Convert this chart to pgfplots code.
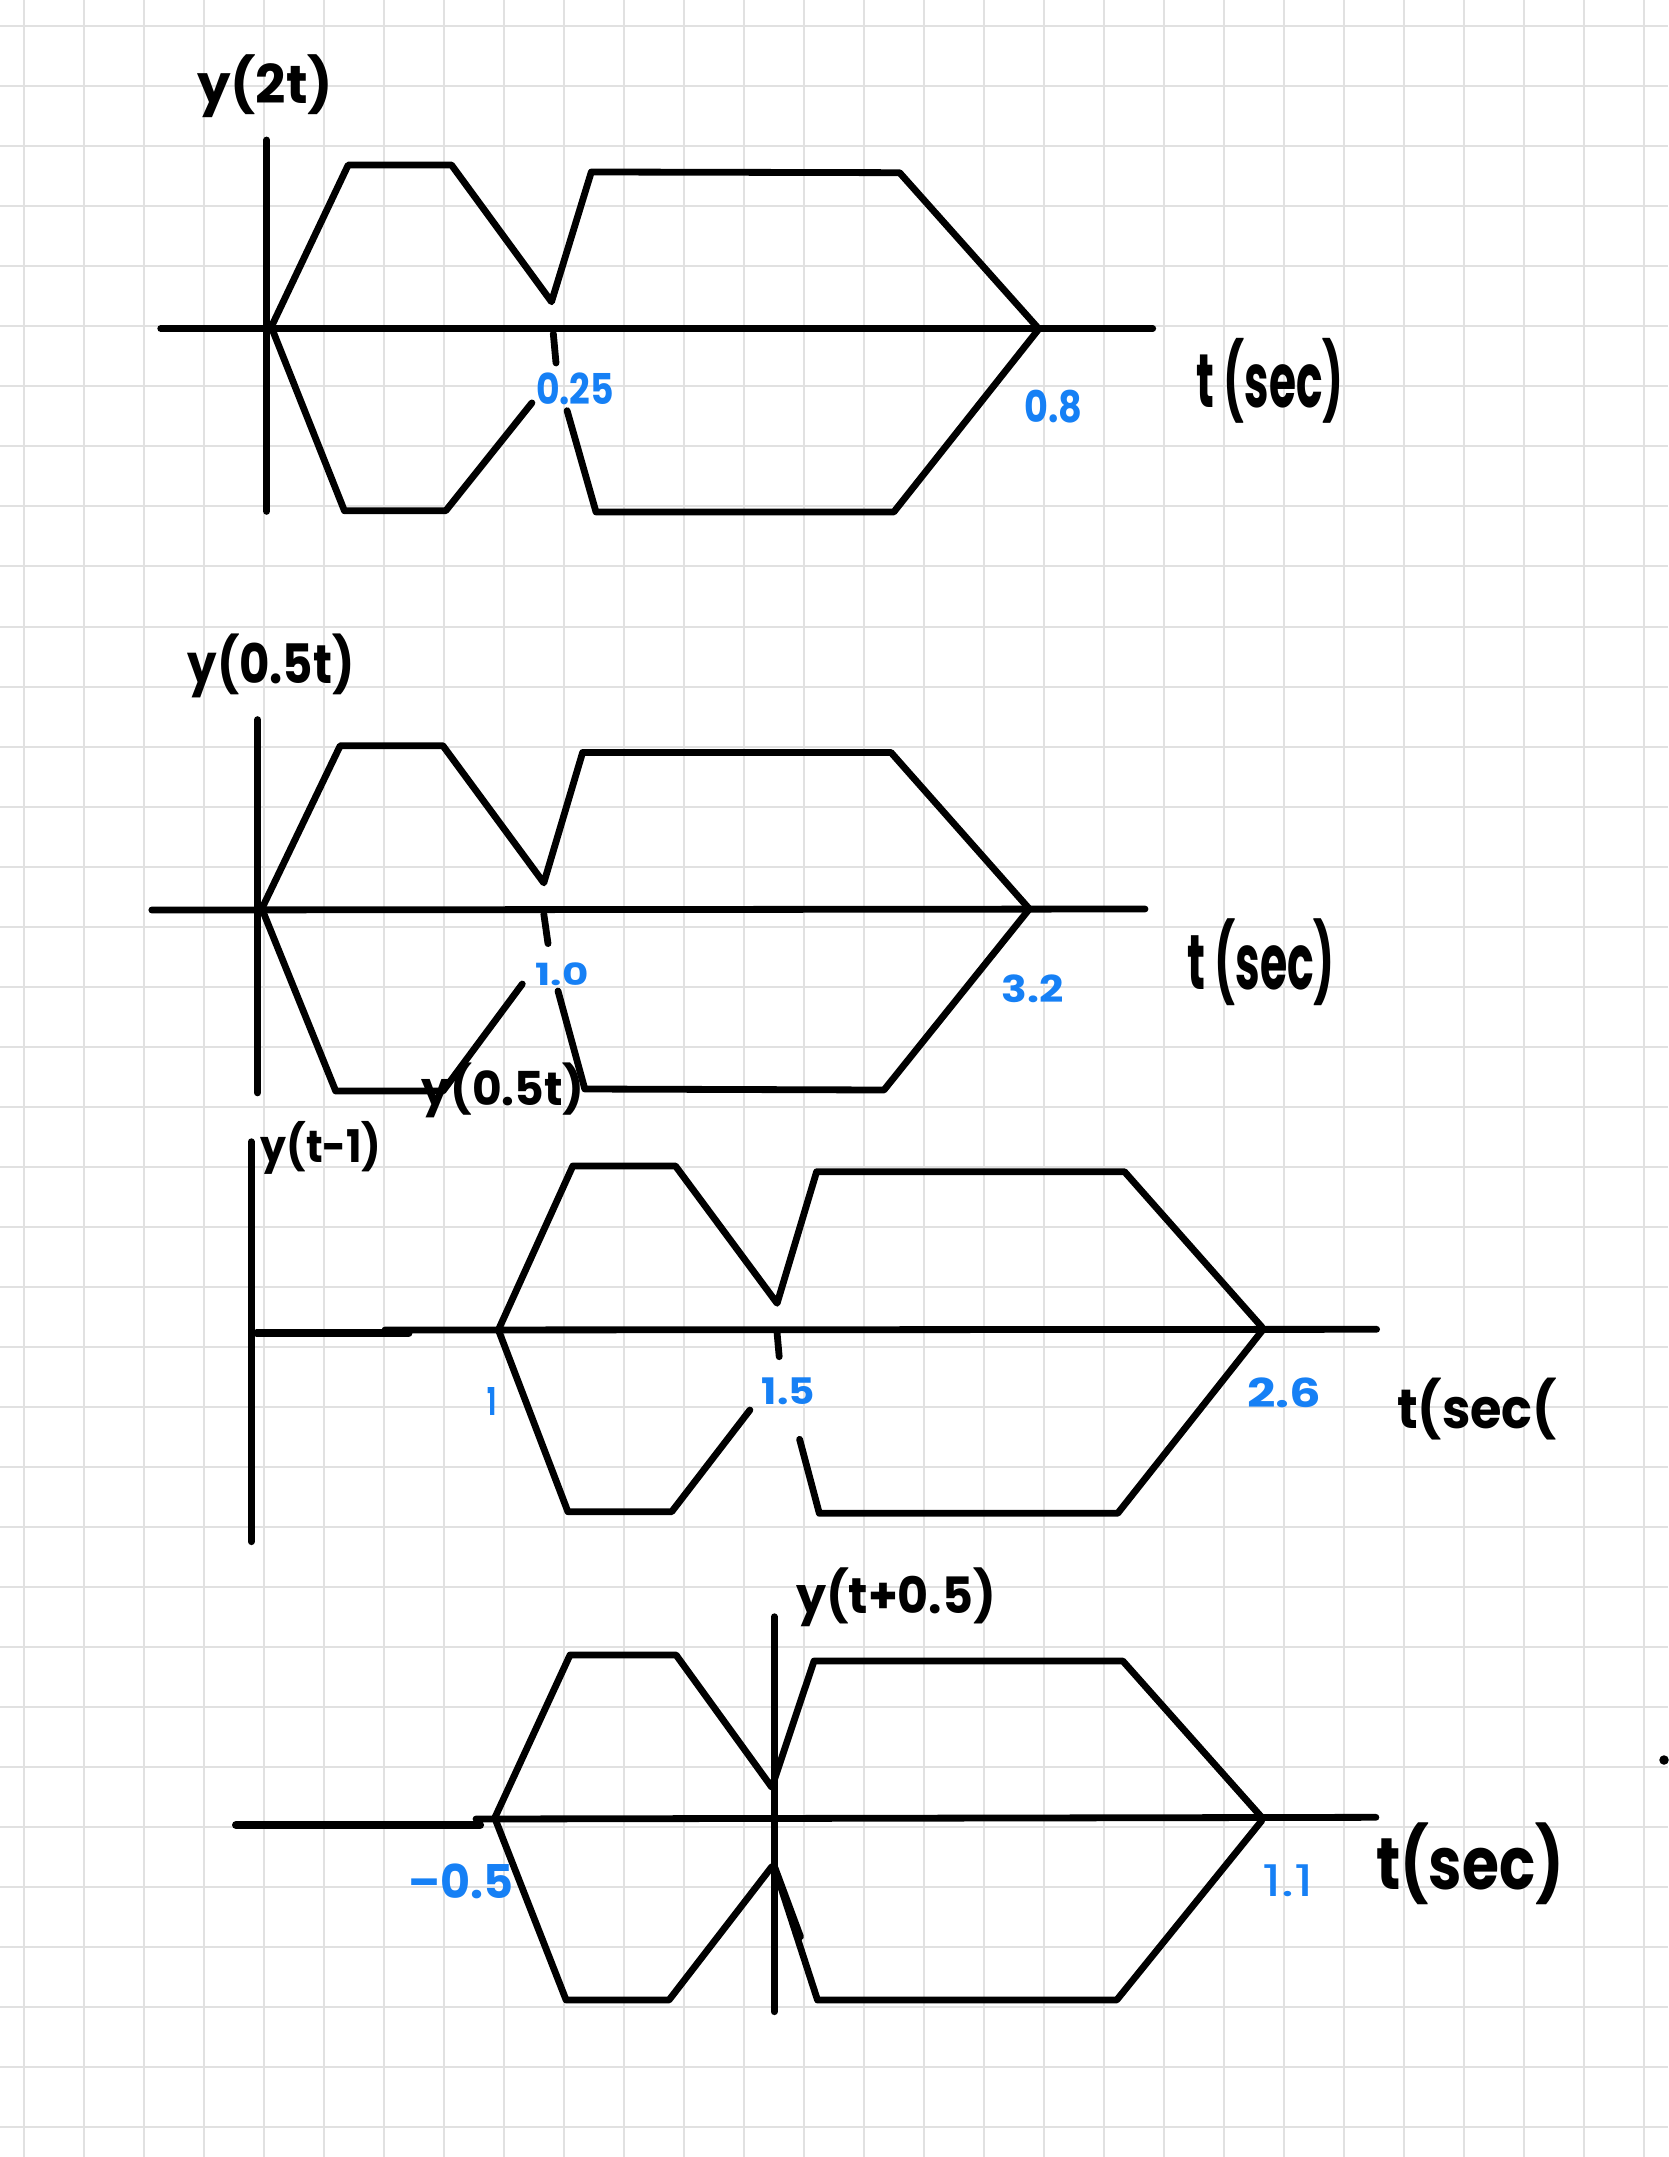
\documentclass[border=0pt]{standalone}
\usepackage{pgfplots}
\pgfplotsset{compat=1.18}
\usepackage{fontspec}
\setmainfont{Poppins}
\usepackage{graphicx}
\definecolor{hblue}{RGB}{22,128,245}
\definecolor{gridc}{RGB}{225,225,225}
\newcommand{\hw}[3]{\resizebox*{#1mm}{#2mm}{\bfseries #3}}
\newcommand{\hwn}[3]{\resizebox*{#1mm}{#2mm}{#3}}
\pgfplotsset{hl/.style={black, solid, line width=0.68mm, line join=round, line cap=round, mark=none}}
\begin{document}
\begin{tikzpicture}
\begin{axis}[
  scale only axis, width=16.68cm, height=21.57cm,
  xmin=0, xmax=1668, ymin=0, ymax=2157, y dir=reverse,
  axis line style={draw=none}, major tick length=0pt,
  xtick={24,84,...,1644}, ytick={26.5,86.5,...,2126.5},
  xticklabels={}, yticklabels={},
  grid=major, grid style={gridc, line width=0.2mm},
  clip=false,
]
% ---------- plot 1 : y(2t)
\addplot[hl] coordinates {(266.7,140) (266.7,511.4)};
\addplot[hl] coordinates {(160.7,328.6) (1152.7,328.6)};
\addplot[hl] coordinates {(270.5,328.6) (348.2,165) (451.5,165) (551.5,301.8) (591.3,172) (899.6,172.7) (1038,328)};
\addplot[hl] coordinates {(272.5,330) (344.4,510.7) (445.8,510.7) (531.9,402.9)};
\addplot[hl] coordinates {(567.1,410.7) (596,512) (893.8,512) (1038,330)};
\addplot[hl] coordinates {(553.3,333.5) (556,363)};
% ---------- plot 2 : y(0.5t)
\addplot[hl] coordinates {(257.6,719.6) (257.6,1092.9)};
\addplot[hl] coordinates {(151.8,910) (1145,909)};
\addplot[hl] coordinates {(261.2,910) (340.2,745.7) (442.9,745.7) (543.8,882.9) (582.6,752.5) (891,752.5) (1028.5,908)};
\addplot[hl] coordinates {(263.4,912.5) (335.7,1091) (443,1091) (522.3,984)};
\addplot[hl] coordinates {(558,991) (584.8,1089) (884,1090) (1028.5,910)};
\addplot[hl] coordinates {(543.8,914) (548,943.6)};
% ---------- plot 3 : y(t-1)
\addplot[hl] coordinates {(251.3,1141.7) (251.3,1541.7)};
\addplot[hl, line width=0.8mm] coordinates {(256.7,1333.3) (408.5,1333.3)};
\addplot[hl] coordinates {(385,1330) (1376.6,1329.3)};
\addplot[hl] coordinates {(499.1,1328.3) (572.8,1166) (675.5,1166) (777.1,1303.3) (816.6,1171.7) (1124.5,1171.7) (1262.1,1327.3)};
\addplot[hl] coordinates {(499.1,1331.7) (567.9,1511.7) (671.7,1511.7) (749.9,1410)};
\addplot[hl] coordinates {(799.6,1439.3) (819.3,1513.3) (1117.7,1513.3) (1262.1,1330.7)};
\addplot[hl] coordinates {(777.1,1333.3) (779.2,1356.7)};
% ---------- plot 4 : y(t+0.5)
\addplot[hl] coordinates {(774.2,1616.7) (774.2,2011.7)};
\addplot[hl, line width=0.82mm] coordinates {(236.1,1825) (480,1825)};
\addplot[hl] coordinates {(476,1819) (1375.9,1817.3)};
\addplot[hl] coordinates {(495.3,1816.7) (570,1655) (676.1,1655) (771.8,1787.3) (814,1661) (1122.8,1661) (1261.7,1817.3)};
\addplot[hl] coordinates {(495.3,1819.3) (566.1,2000) (669,2000) (771.8,1866.7)};
\addplot[hl] coordinates {(774.2,1866.7) (817.5,2000) (1116.7,2000) (1261.7,1820.7)};
\addplot[hl] coordinates {(775,1868) (800.5,1936.7)};
\addplot[black, only marks, mark=*, mark size=0.4mm] coordinates {(1664,1760)};
% ---------- labels
\begin{scope}[every node/.style={inner sep=0pt, anchor=center}]
\node at (axis cs:265,86.5) {\hw{13.6}{6.3}{y(2t)}};
\node at (axis cs:1270,380.5) {\hw{14.7}{8.5}{t (sec)}};
\node[hblue] at (axis cs:575,389) {\hw{7.8}{3.2}{0.25}};
\node[hblue] at (axis cs:1053.6,406.7) {\hw{5.8}{3.3}{0.8}};
\node at (axis cs:271,666) {\hw{16.7}{6.4}{y(0.5t)}};
\node[hblue] at (axis cs:562,974) {\hw{5.3}{2.3}{1.0}};
\node[hblue] at (axis cs:1032.5,989) {\hw{6.2}{2.8}{3.2}};
\node at (axis cs:1261,961.7) {\hw{14.8}{8.7}{t (sec)}};
\node at (axis cs:503,1090) {\hw{16.3}{5.5}{y(0.5t)}};
\node at (axis cs:321,1148) {\hw{12.1}{5.3}{y(t-1)}};
\node[hblue] at (axis cs:492.4,1401) {\hw{0.9}{2.8}{1}};
\node[hblue] at (axis cs:788.3,1391.7) {\hw{5.3}{2.7}{1.5}};
\node[hblue] at (axis cs:1284,1393) {\hw{7.4}{3.0}{2.6}};
\node at (axis cs:1477,1409) {\hw{16.0}{6.2}{t(sec(}};
\node at (axis cs:896,1597) {\hw{20.0}{5.9}{y(t+0.5)}};
\node[hblue] at (axis cs:461,1881) {\hw{10.5}{3.5}{\textendash0.5}};
\node[hblue] at (axis cs:1288,1881) {\hwn{5.2}{3.2}{1.1}};
\node at (axis cs:1470,1864) {\hw{18.8}{8.2}{t(sec)}};
\end{scope}
\end{axis}
\pgfresetboundingbox
\useasboundingbox (current axis.south west) rectangle (current axis.north east);
\end{tikzpicture}
\end{document}
